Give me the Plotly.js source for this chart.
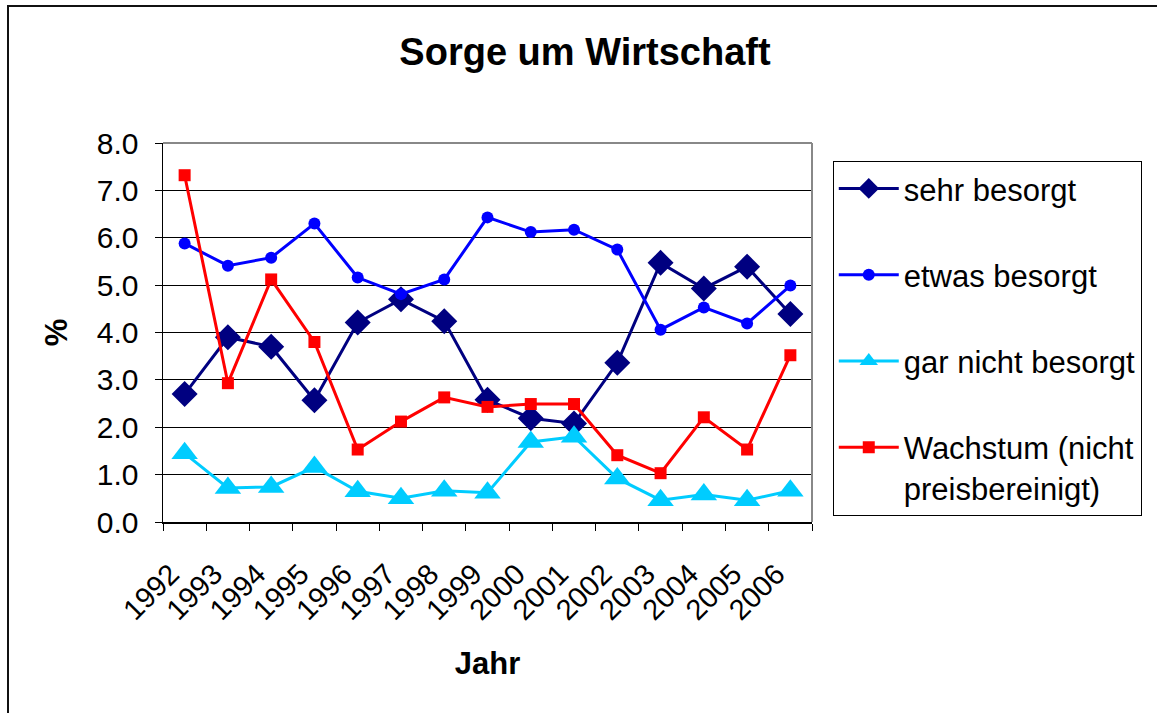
<!DOCTYPE html>
<html>
<head>
<meta charset="utf-8">
<script src="https://cdn.plot.ly/plotly-3.0.1.min.js"></script>
<style>
  html, body { margin: 0; padding: 0; background: #fff; }
  #wrap { position: relative; width: 1157px; height: 713px; overflow: hidden; }
  #chart { position: absolute; left: 0; top: 0; width: 1157px; height: 713px; }
  #frame { position: absolute; left: 7px; top: 5px; width: 1200px; height: 800px;
           border: 2px solid #111; pointer-events: none; box-sizing: border-box; }
</style>
</head>
<body>
<div id="wrap">
  <div id="chart"></div>
  <div id="frame"></div>
</div>
<script>
const years = ["1992","1993","1994","1995","1996","1997","1998","1999","2000","2001","2002","2003","2004","2005","2006"];
const sehrBesorgt = [2.7, 3.9, 3.7, 2.57, 4.21, 4.7, 4.24, 2.58, 2.19, 2.08, 3.36, 5.47, 4.93, 5.39, 4.39];
const etwasBesorgt = [5.88, 5.41, 5.58, 6.3, 5.16, 4.81, 5.12, 6.43, 6.12, 6.17, 5.75, 4.06, 4.53, 4.19, 4.99];
const garNichtBesorgt = [1.45, 0.72, 0.74, 1.16, 0.65, 0.5, 0.66, 0.62, 1.69, 1.8, 0.92, 0.46, 0.58, 0.46, 0.66];
const wachstum = [7.32, 2.93, 5.12, 3.8, 1.53, 2.12, 2.63, 2.43, 2.49, 2.49, 1.41, 1.03, 2.21, 1.53, 3.52];
const seriesNames = ["sehr besorgt", "etwas besorgt", "gar nicht besorgt", "Wachstum (nicht<br>preisbereinigt)"];

const FONT = "Liberation Sans, Arial, sans-serif";

function trace(y, name, color, symbol, size, grp) {
  return {
    x: years, y: y, name: name, type: "scatter", mode: "lines+markers",
    line: { color: color, width: 3 },
    marker: { color: color, symbol: symbol, size: size, line: { width: 0 } },
    legendgroup: grp, cliponaxis: false
  };
}

const data = [
  trace(sehrBesorgt, seriesNames[0], "#000080", "diamond", 20, "a"),
  trace(etwasBesorgt, seriesNames[1], "#0000FF", "circle", 12, "b"),
  trace(garNichtBesorgt, seriesNames[2], "#00CCFF", "triangle-up", 23, "c"),
  trace(wachstum, seriesNames[3], "#FF0000", "square", 12, "d")
];

const layout = {
  width: 1157, height: 713,
  margin: { l: 163, r: 345, t: 143, b: 191, pad: 0 },
  paper_bgcolor: "rgba(0,0,0,0)",
  plot_bgcolor: "#fff",
  font: { family: FONT, color: "#000", size: 30 },
  title: { text: "<b>Sorge um Wirtschaft</b>", font: { family: FONT, size: 38, color: "#000" },
           x: 0.5056, xanchor: "center", y: 0.927, yanchor: "middle", xref: "container", yref: "container" },
  xaxis: {
    type: "category", range: [-0.5, 14.5], tickson: "boundaries",
    ticks: "outside", ticklen: 7, tickcolor: "#000", tickwidth: 1,
    showline: true, linecolor: "#000", linewidth: 1.5,
    showgrid: false, zeroline: false, tickangle: -45,
    ticklabelstandoff: 22, ticklabelshift: -14,
    tickfont: { family: FONT, size: 29, color: "#000" },
    title: { text: "<b>Jahr</b>", font: { family: FONT, size: 31, color: "#000" }, standoff: 27 },
    fixedrange: true
  },
  yaxis: {
    range: [0, 8], dtick: 1, tick0: 0, tickformat: ".1f",
    ticks: "outside", ticklen: 7, tickcolor: "#000", tickwidth: 1,
    showline: true, linecolor: "#000", linewidth: 1.5,
    showgrid: true, gridcolor: "#000", gridwidth: 1, zeroline: false,
    ticklabelstandoff: 10,
    tickfont: { family: FONT, size: 30, color: "#000" },
    title: { text: "<b>%</b>", font: { family: FONT, size: 31, color: "#000" }, standoff: 20 },
    fixedrange: true
  },
  showlegend: true,
  legend: {
    x: 1.032, xanchor: "left", y: 0.953, yanchor: "top",
    bgcolor: "#fff", bordercolor: "#000", borderwidth: 1,
    font: { family: FONT, size: 31, color: "#000" },
    traceorder: "grouped", tracegroupgap: 43, valign: "top", itemwidth: 60
  },
  shapes: [
    { type: "line", xref: "paper", yref: "paper", x0: 0, x1: 1, y0: 1, y1: 1, line: { color: "#888", width: 2 }, layer: "above" },
    { type: "line", xref: "paper", yref: "paper", x0: 1, x1: 1, y0: 0, y1: 1, line: { color: "#888", width: 2 }, layer: "above" }
  ]
};

Plotly.newPlot("chart", data, layout, { displayModeBar: false, staticPlot: true });
</script>
</body>
</html>
